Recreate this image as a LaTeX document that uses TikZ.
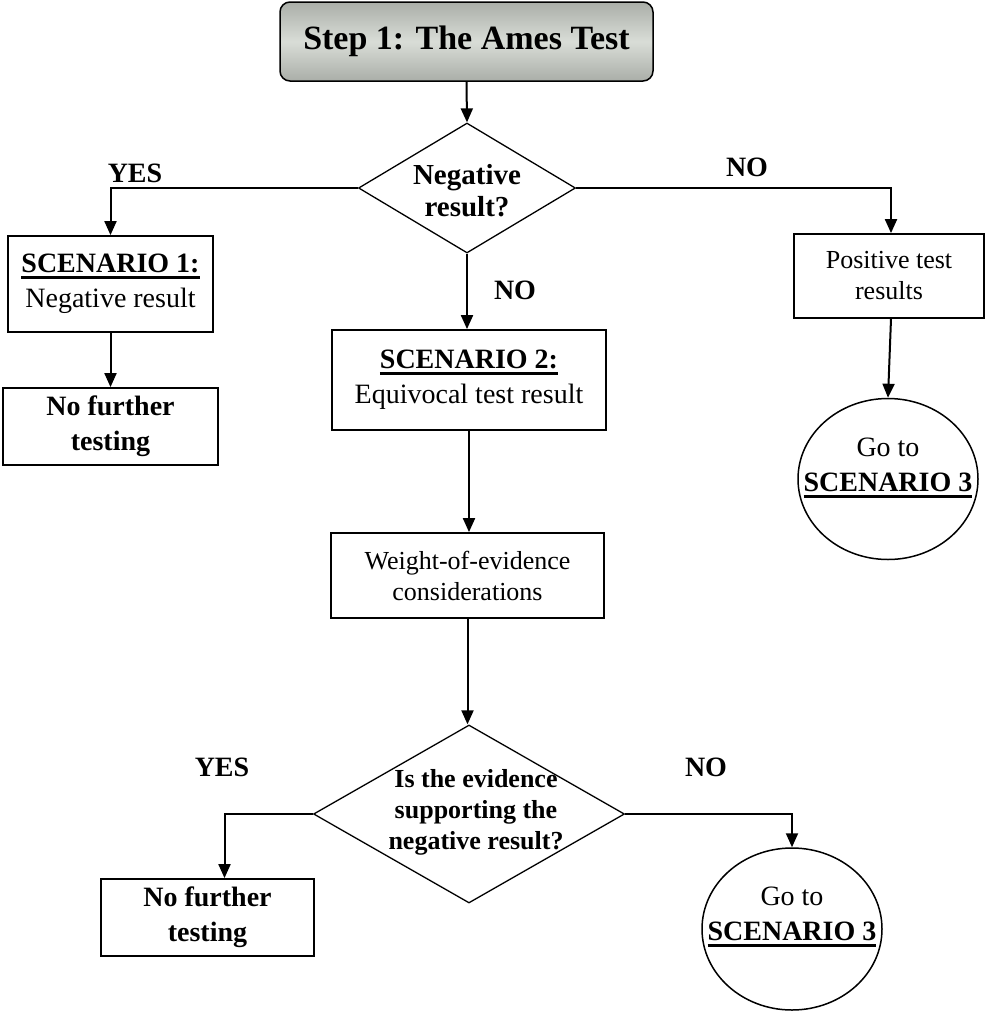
\documentclass[tikz,border=0pt]{standalone}
\usepackage{fontspec}
\setmainfont{Liberation Serif}
\usetikzlibrary{arrows.meta,shapes.geometric,calc}
\definecolor{gtop}{HTML}{AAAEA8}
\definecolor{gmid}{HTML}{D9DDD7}
\newcommand\ulbox[1]{\setbox0\hbox{#1}\rlap{\rule[-6pt]{\wd0}{2.6pt}}\box0}
\newcommand\fsz[2]{\fontsize{#1}{#2}\selectfont}
\begin{document}
\begin{tikzpicture}[x=1pt,y=-1pt,
  box/.style={draw, line width=1.8pt, rectangle, inner sep=0pt, align=center, font=\fsz{28}{35}},
  nfbox/.style={box, font=\bfseries\fsz{28}{35}},
  smallbox/.style={box, font=\fsz{26}{31}},
  titlebox/.style={draw, line width=1.5pt, rounded corners=10pt, inner sep=0pt,
     top color=gtop, bottom color=gtop, middle color=gmid, font=\bfseries\fsz{34}{40}},
  dia/.style={draw, diamond, line width=1.3pt, inner sep=0pt},
  ell/.style={draw, ellipse, line width=1.5pt, inner sep=0pt},
  dtext/.style={align=center, inner sep=0pt},
  ctext/.style={align=center, inner sep=0pt, font=\fsz{28}{35}},
  lbl/.style={inner sep=0pt, font=\bfseries\fsz{28}{32}},
  conn/.style={line width=2pt, -{Triangle[length=14pt,width=12pt]}}
]
\useasboundingbox (0,0) rectangle (985,1012);

\node[titlebox, minimum width=373pt, minimum height=79pt] (t) at (466.5,41.5) {Step 1: The Ames Test};

\node[dia, minimum width=217pt, minimum height=130pt,
  label={[dtext, font=\bfseries\fsz{29}{32}, yshift=-3pt]center:Negative\\result?}] (d1) at (467,188) {};

\node[box, minimum width=205pt, minimum height=96pt] (s1) at (110.5,284) {\textbf{\ulbox{SCENARIO 1:}}\\Negative result};
\node[nfbox, minimum width=215pt, minimum height=77pt] (nf1) at (110.5,426.5) {No further\\testing};

\node[box, minimum width=274pt, minimum height=100pt] (s2) at (469,380) {\textbf{\ulbox{SCENARIO 2:}}\\Equivocal test result};
\node[smallbox, minimum width=273pt, minimum height=85pt] (woe) at (467.5,575.5) {Weight-of-evidence\\considerations};

\node[smallbox, minimum width=190pt, minimum height=84pt] (pos) at (889,276) {Positive test\\results};
\node[ell, minimum width=180pt, minimum height=161pt,
  label={[ctext, yshift=11pt]center:Go to\\\textbf{\ulbox{SCENARIO 3}}}] (c1) at (888,479) {};

\node[dia, minimum width=311pt, minimum height=178pt,
  label={[dtext, font=\bfseries\fsz{26}{31}, xshift=7pt, yshift=2pt]center:Is the evidence\\supporting the\\negative result?}] (d2) at (469,814) {};

\node[nfbox, minimum width=213pt, minimum height=77pt] (nf2) at (207.5,917.5) {No further\\testing};
\node[ell, minimum width=180pt, minimum height=162pt,
  label={[ctext, yshift=12pt]center:Go to\\\textbf{\ulbox{SCENARIO 3}}}] (c2) at (792,929) {};

\node[lbl] (yes1) at (135,173) {YES};
\node[lbl] (no1) at (747,167) {NO};
\node[lbl] (no2) at (515,290) {NO};
\node[lbl] (yes2) at (222,767) {YES};
\node[lbl] (no3) at (706,767) {NO};

\draw[conn] (t.south) -- (d1.north);
\draw[conn] (d1.west) -| (s1.north);
\draw[conn] (d1.east) -| ([xshift=2pt]pos.north);
\draw[conn] (d1.south) -- (d1.south |- s2.north);
\draw[conn] (s1.south) -- (nf1.north);
\draw[conn] ([xshift=2pt]pos.south) -- (c1.north);
\draw[conn] (s2.south) -- (s2.south |- woe.north);
\draw[conn] (woe.south) -- (woe.south |- d2.north);
\draw[conn] (d2.west) -| ([xshift=17pt]nf2.north);
\draw[conn] (d2.east) -| (c2.north);
\end{tikzpicture}
\end{document}
